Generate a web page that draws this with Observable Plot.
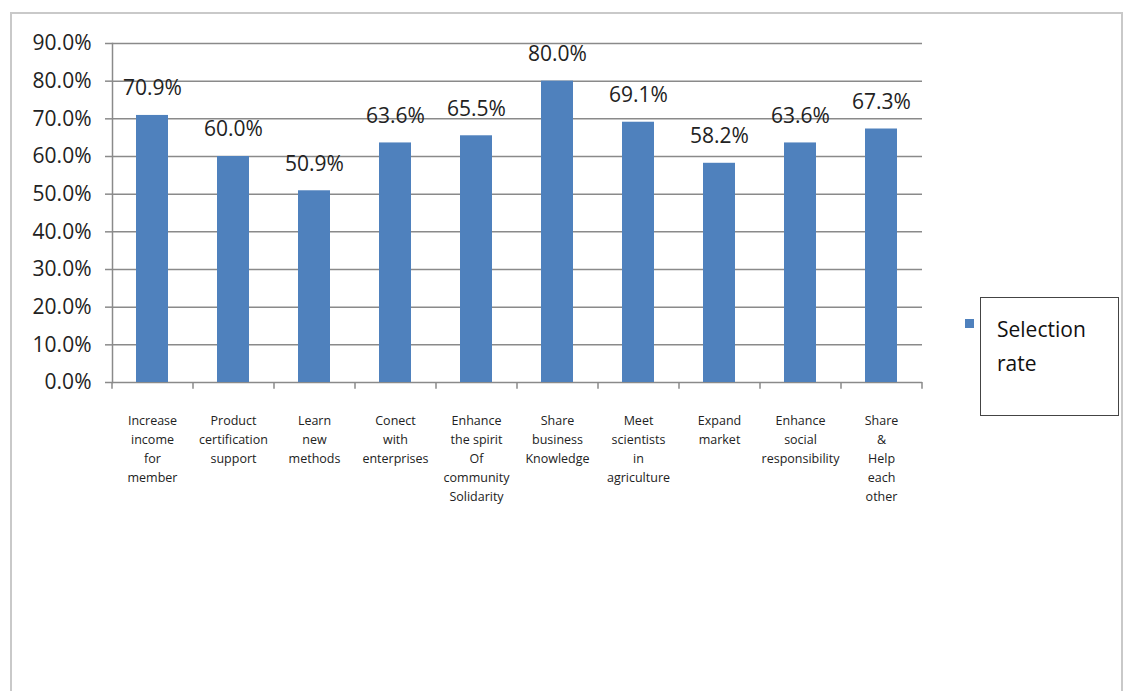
<!DOCTYPE html>
<html>
<head>
<meta charset="utf-8">
<script src="https://cdn.jsdelivr.net/npm/d3@7"></script>
<script src="https://cdn.jsdelivr.net/npm/@observablehq/plot@0.6"></script>
<style>
  body { margin: 0; background: #fff; font-family: "Open Sans", sans-serif; }
  #frame { position: absolute; left: 10px; top: 12px; width: 1113px; height: 700px; border: 2px solid #c9c9c9; box-sizing: border-box; }
  #chart { position: absolute; left: 0; top: 0; }
  #legend { position: absolute; left: 965px; top: 297px; }
  #legend .sw { position: absolute; left: 0; top: 22px; width: 9px; height: 9px; background: #4f81bd; }
  #legend .box { position: absolute; left: 15px; top: 0; width: 139px; height: 119px; border: 1px solid #444; box-sizing: border-box; padding: 14px 0 0 16px; font-size: 21px; line-height: 34px; color: #111; }
</style>
</head>
<body>
<div id="frame"></div>
<div id="chart"></div>
<div id="legend"><div class="sw"></div><div class="box">Selection<br>rate</div></div>
<script>
const categories = [
  "Increase\nincome\nfor\nmember",
  "Product\ncertification\nsupport",
  "Learn\nnew\nmethods",
  "Conect\nwith\nenterprises",
  "Enhance\nthe spirit\nOf\ncommunity\nSolidarity",
  "Share\nbusiness\nKnowledge",
  "Meet\nscientists\nin\nagriculture",
  "Expand\nmarket",
  "Enhance\nsocial\nresponsibility",
  "Share\n&\nHelp\neach\nother"
];
const values = [0.709, 0.600, 0.509, 0.636, 0.655, 0.800, 0.691, 0.582, 0.636, 0.673];
const yTicks = [0, 0.1, 0.2, 0.3, 0.4, 0.5, 0.6, 0.7, 0.8, 0.9];

const data = categories.map((c, i) => ({cat: c, value: values[i]}));

const W = 1125, ML = 112, MR = 203, MT = 43, MB = 148, H = 530;
const step = (W - ML - MR) / categories.length;
const gray = "#8a8a8a";
const tickLen = -0.018;

const plot = Plot.plot({
  width: W, height: H,
  marginLeft: ML, marginRight: MR, marginTop: MT, marginBottom: MB,
  style: {fontFamily: "'Open Sans', sans-serif", background: "transparent", overflow: "visible"},
  x: {domain: categories, paddingInner: 0.6, paddingOuter: 0.3, axis: null},
  y: {domain: [0, 0.9], axis: null},
  marks: [
    Plot.ruleY(yTicks, {stroke: gray, strokeWidth: 1.5}),
    Plot.frame({anchor: "left", stroke: gray, strokeWidth: 1.5}),
    Plot.axisY({ticks: yTicks, tickFormat: d3.format(".1%"), tickSize: 7, stroke: gray, strokeWidth: 1.5, tickPadding: 14, fontSize: 21, fill: "#222", label: null}),
    Plot.ruleX(categories, {x: d => d, dx: -step / 2, y1: 0, y2: tickLen, stroke: gray, strokeWidth: 1.5}),
    Plot.ruleX([categories[categories.length - 1]], {x: d => d, dx: step / 2, y1: 0, y2: tickLen, stroke: gray, strokeWidth: 1.5}),
    Plot.barY(data, {x: "cat", y: "value", fill: "#4f81bd"}),
    Plot.text(data, {x: "cat", y: "value", text: d => d3.format(".1%")(d.value), dy: -27, fontSize: 21, fill: "#222"}),
    Plot.text(data, {x: "cat", y: 0, text: "cat", lineAnchor: "top", dy: 29, fontSize: 12.5, lineHeight: 1.52, fill: "#222"})
  ]
});
document.getElementById("chart").appendChild(plot);
</script>
</body>
</html>
